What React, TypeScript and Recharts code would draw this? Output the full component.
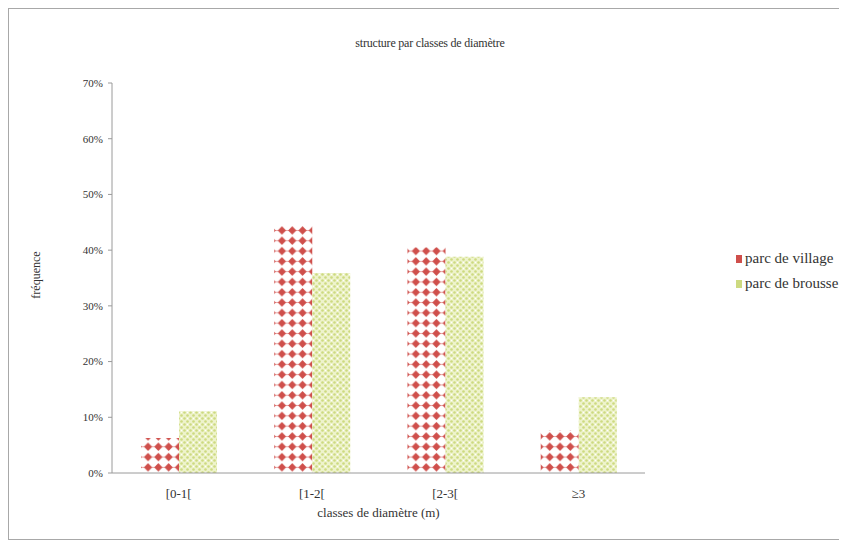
import { Bar, BarChart, XAxis, YAxis } from 'recharts'

const categories = ['[0-1[', '[1-2[', '[2-3[', '≥3']
const village = [0.063, 0.445, 0.405, 0.077]
const brousse = [0.111, 0.359, 0.388, 0.136]
const yTicks = [0, 0.1, 0.2, 0.3, 0.4, 0.5, 0.6, 0.7]

const data = categories.map((c, i) => ({
  label: c,
  village: village[i],
  brousse: brousse[i],
}))

const FONT = "'Times New Roman', 'Liberation Serif', Times, serif"
const RED = '#cf4f4b'
const GREEN = '#cdda80'

function Patterns() {
  return (
    <defs>
      <pattern id="patVillage" width="10.3" height="10.3" patternUnits="userSpaceOnUse">
        <rect width="10.3" height="10.3" fill="#fff" />
        <line x1="0" y1="5.15" x2="10.3" y2="5.15" stroke="#e8a4a2" strokeWidth="1" />
        <polygon points="5.15,1 9.3,5.15 5.15,9.3 1,5.15" fill={RED} />
      </pattern>
      <pattern id="patBrousse" width="6" height="6" patternUnits="userSpaceOnUse">
        <rect width="6" height="6" fill="#eef3cc" />
        <circle cx="1.5" cy="1.5" r="1.3" fill={GREEN} />
        <circle cx="4.5" cy="4.5" r="1.3" fill={GREEN} />
        <circle cx="4.5" cy="1.5" r="0.7" fill="#fff" />
      </pattern>
    </defs>
  )
}

function Swatch({ color }: { color: string }) {
  return (
    <svg width={6} height={8} style={{ marginRight: 3 }}>
      <rect width={6} height={8} fill={color} />
    </svg>
  )
}

function YLabel() {
  return (
    <text
      x={31}
      y={266}
      transform="rotate(-90 31 266)"
      textAnchor="middle"
      fontSize={12}
      fontFamily={FONT}
      fill="#333"
    >
      fréquence
    </text>
  )
}

export default function App() {
  return (
    <div
      style={{
        position: 'relative',
        width: 836,
        height: 532,
        border: '1px solid #a8a8a8',
        boxSizing: 'border-box',
        background: '#fff',
        fontFamily: FONT,
      }}
    >
      <div
        style={{
          position: 'absolute',
          left: 0,
          width: 842,
          top: 27,
          textAlign: 'center',
          fontSize: 12,
          color: '#333',
          fontFamily: FONT,
          letterSpacing: -0.2,
        }}
      >
        structure par classes de diamètre
      </div>
      <BarChart
        width={834}
        height={530}
        data={data}
        margin={{ top: 74, right: 198, left: 43, bottom: 20 }}
        barGap={0}
        barSize={38}
      >
        <Patterns />
        <XAxis
          dataKey="label"
          height={46}
          tickLine={false}
          axisLine={{ stroke: '#9a9a9a' }}
          tick={{ fontSize: 13, fill: '#333', fontFamily: FONT }}
          tickMargin={10}
          label={{
            value: 'classes de diamètre (m)',
            position: 'insideBottom',
            offset: 2,
            fontSize: 13,
            fill: '#333',
            fontFamily: FONT,
          }}
        />
        <YAxis
          width={60}
          domain={[0, 0.7]}
          ticks={yTicks}
          interval={0}
          tickSize={4}
          tickMargin={5}
          axisLine={{ stroke: '#9a9a9a' }}
          tickLine={{ stroke: '#9a9a9a' }}
          tick={{ fontSize: 11, fill: '#333', fontFamily: FONT }}
          tickFormatter={(v: number) => `${Math.round(v * 100)}%`}
          label={<YLabel />}
        />
        <Bar dataKey="village" fill="url(#patVillage)" isAnimationActive={false} />
        <Bar dataKey="brousse" fill="url(#patBrousse)" isAnimationActive={false} />
      </BarChart>
      <div
        style={{
          position: 'absolute',
          left: 727,
          top: 237,
          fontSize: 15,
          color: '#333',
          lineHeight: '25px',
          whiteSpace: 'nowrap',
          fontFamily: FONT,
        }}
      >
        <div style={{ display: 'flex', alignItems: 'center' }}>
          <Swatch color={RED} />
          parc de village
        </div>
        <div style={{ display: 'flex', alignItems: 'center' }}>
          <Swatch color={GREEN} />
          parc de brousse
        </div>
      </div>
    </div>
  )
}
